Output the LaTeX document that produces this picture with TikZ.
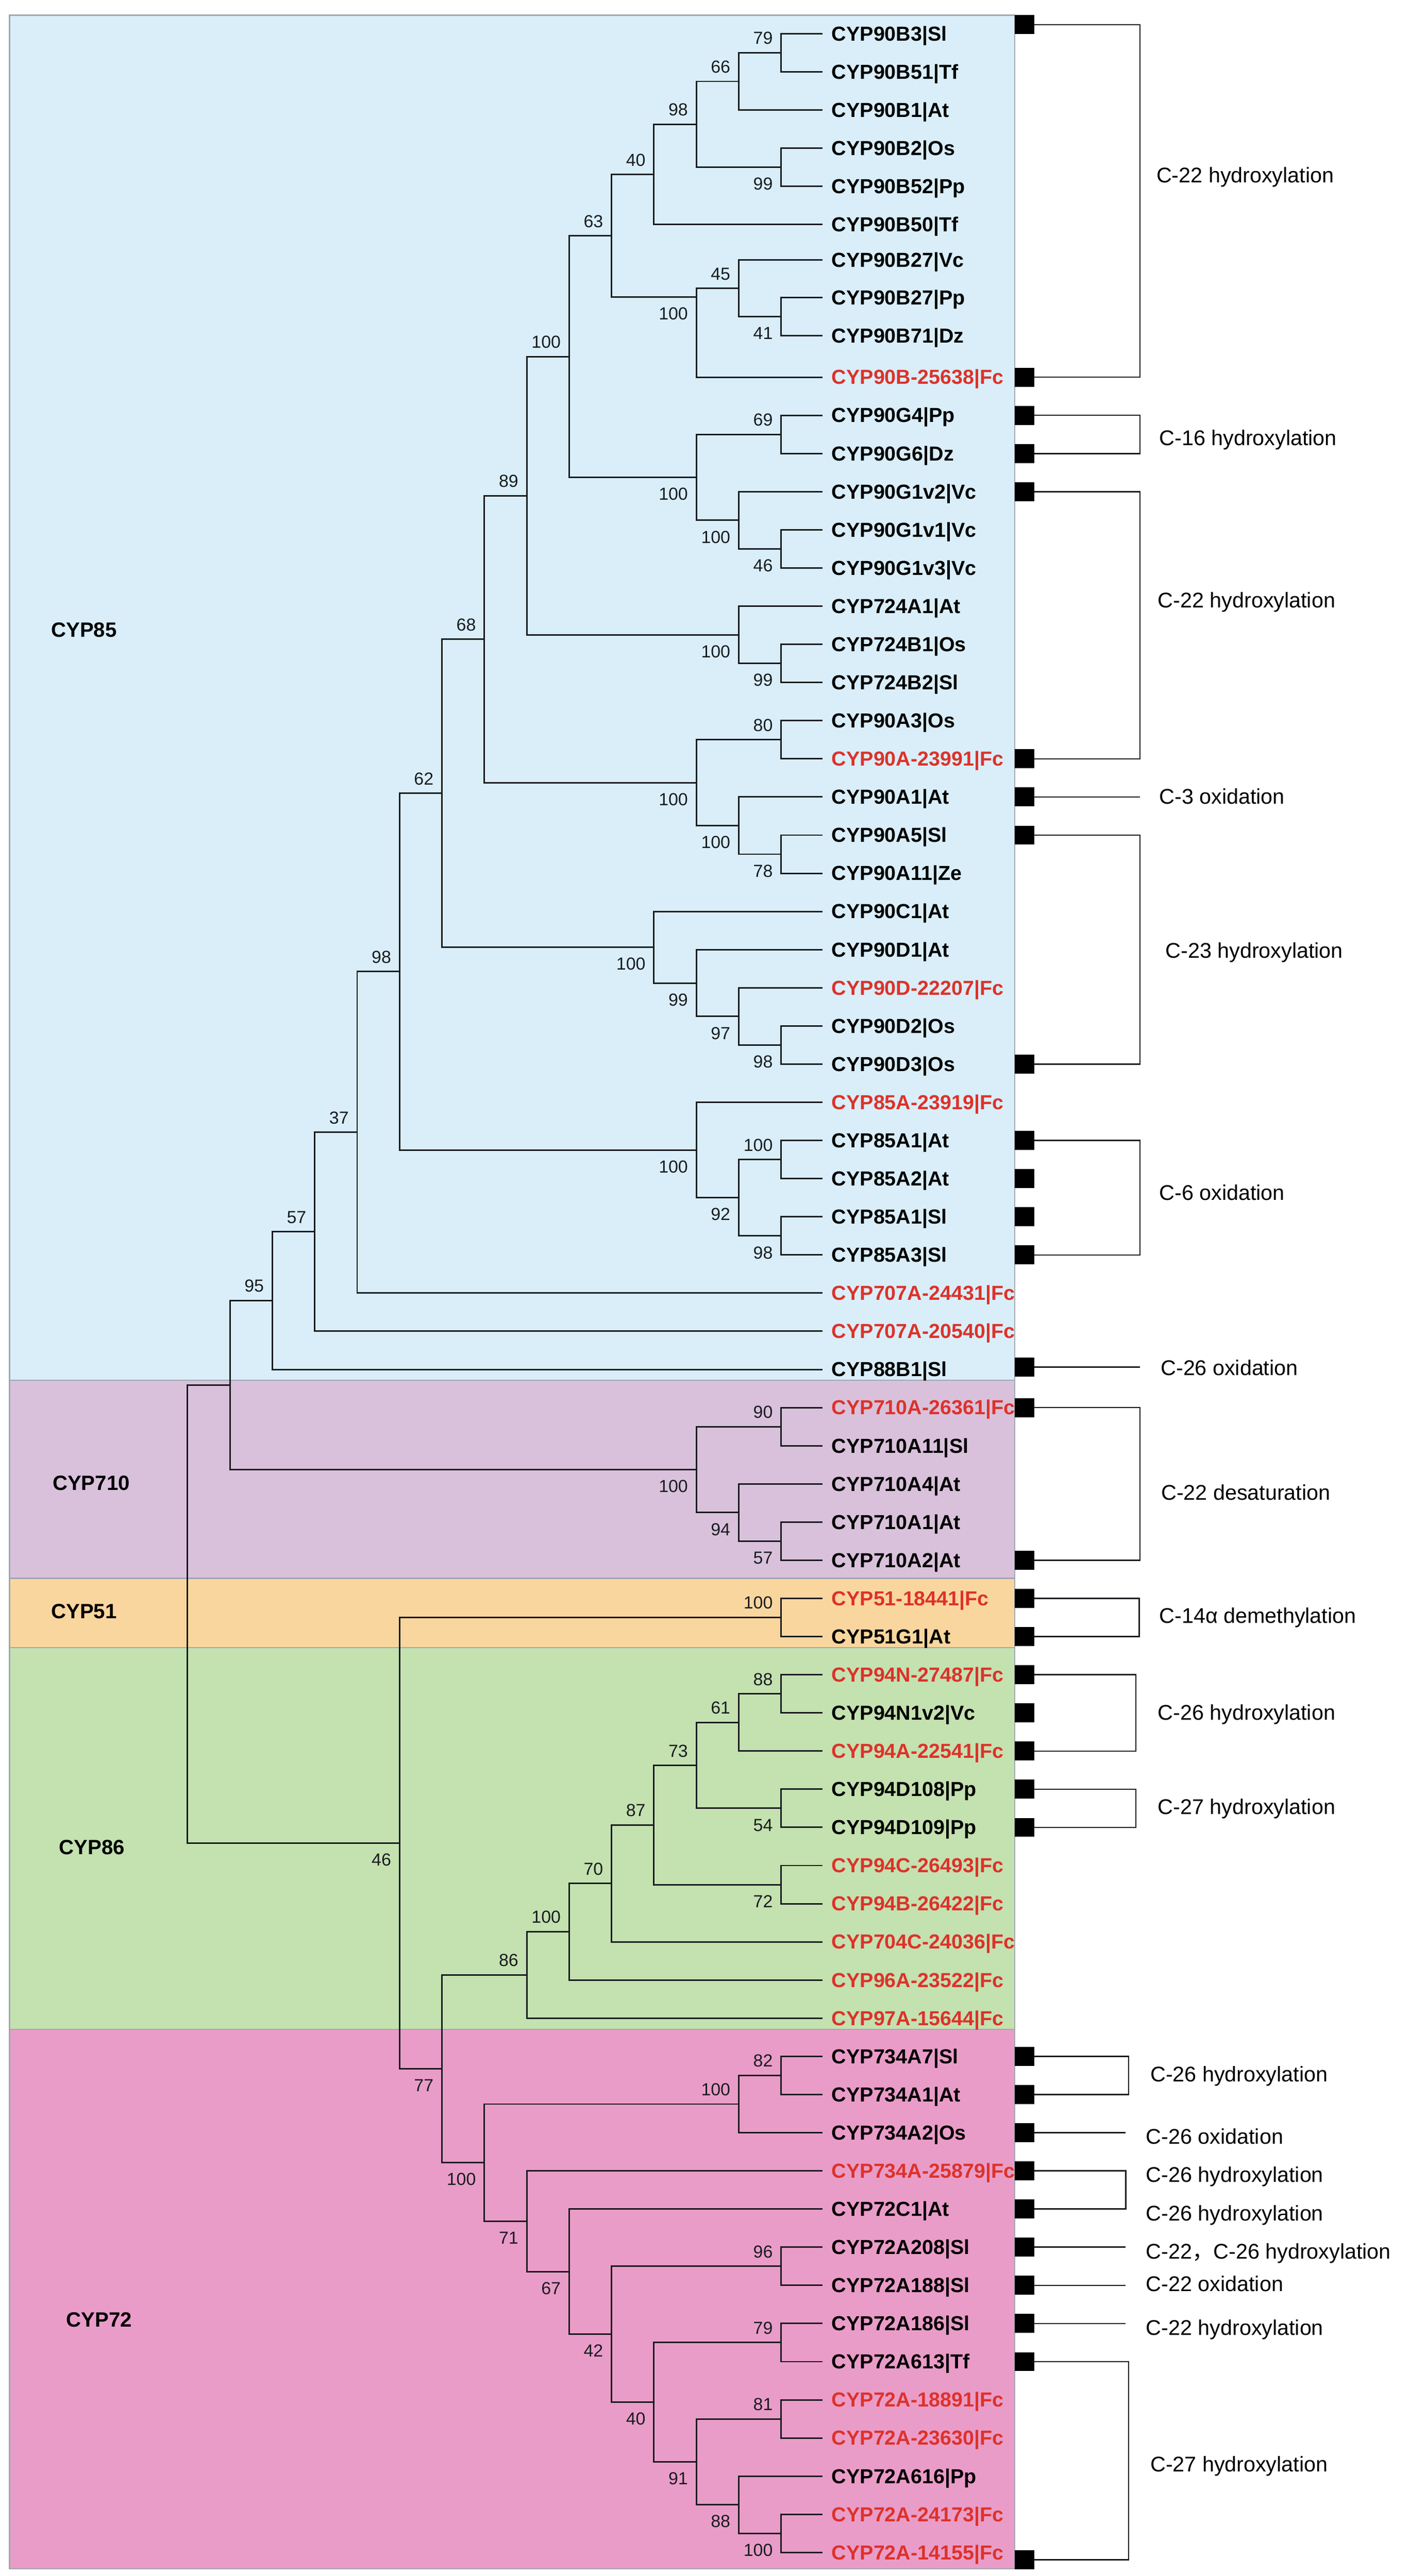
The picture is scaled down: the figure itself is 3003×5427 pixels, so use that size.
\documentclass[tikz,border=0pt]{standalone}
\usepackage{fontspec}
\setmainfont{Liberation Sans}
\newfontfamily\cjkfont{Noto Sans CJK SC}
\definecolor{cA}{RGB}{217,238,249}
\definecolor{cB}{RGB}{217,193,219}
\definecolor{cC}{RGB}{250,214,159}
\definecolor{cD}{RGB}{196,225,176}
\definecolor{cE}{RGB}{234,156,200}
\definecolor{bandline}{RGB}{160,168,176}
\definecolor{fcred}{RGB}{221,50,42}
\definecolor{ink}{RGB}{25,28,32}
\begin{document}
\begin{tikzpicture}[x=0.25pt,y=-0.25pt,
  tree/.style={line width=0.8pt,line cap=rect,line join=miter,draw=ink},
  brk/.style={line width=0.7pt,draw=ink},
  leaf/.style={inner sep=0pt,font=\fontsize{10.7pt}{12pt}\selectfont\bfseries},
  bs/.style={inner sep=0pt,anchor=base east,font=\fontsize{9.2pt}{11pt}\selectfont,text=ink},
  fn/.style={inner sep=0pt,anchor=base west,font=\fontsize{11.2pt}{13pt}\selectfont,text=black},
  grp/.style={inner sep=0pt,anchor=base west,font=\fontsize{10.9pt}{13pt}\selectfont\bfseries,text=black},
  sq/.style={fill=black,draw=none,minimum width=10.25pt,minimum height=10pt,inner sep=0pt},
  band/.style={draw=bandline,line width=0.6pt}
]
\useasboundingbox (0,0) rectangle (3003,5427);
% ---------- background bands ----------
\path[band,fill=cA] (20,32) rectangle (2137,2908);
\path[band,fill=cB] (20,2908) rectangle (2137,3325);
\path[band,fill=cC] (20,3325) rectangle (2137,3471);
\path[band,fill=cD] (20,3471) rectangle (2137,4275);
\path[band,fill=cE] (20,4275) rectangle (2137,5412);
% ---------- group labels ----------
\node[grp] (g85) at (107,1342) {CYP85};
\node[grp] (g710) at (110,3139) {CYP710};
\node[grp] (g51) at (107,3410) {CYP51};
\node[grp] (g86) at (124,3907) {CYP86};
\node[grp] (g72) at (139,4902) {CYP72};
% ---------- leaves ----------
\foreach \i/\yy/\t/\c in {
1/71/CYP90B3|Sl/black,
2/151.4/CYP90B51|Tf/black,
3/231.8/CYP90B1|At/black,
4/312.2/CYP90B2|Os/black,
5/392.6/CYP90B52|Pp/black,
6/473/CYP90B50|Tf/black,
7/548/CYP90B27|Vc/black,
8/627/CYP90B27|Pp/black,
9/707/CYP90B71|Dz/black,
10/794.6/CYP90B-25638|Fc/fcred,
11/875/CYP90G4|Pp/black,
12/955.4/CYP90G6|Dz/black,
13/1035.8/CYP90G1v2|Vc/black,
14/1116.2/CYP90G1v1|Vc/black,
15/1196.6/CYP90G1v3|Vc/black,
16/1277/CYP724A1|At/black,
17/1357.4/CYP724B1|Os/black,
18/1437.8/CYP724B2|Sl/black,
19/1518.2/CYP90A3|Os/black,
20/1598.6/CYP90A-23991|Fc/fcred,
21/1679/CYP90A1|At/black,
22/1759.4/CYP90A5|Sl/black,
23/1839.8/CYP90A11|Ze/black,
24/1920.2/CYP90C1|At/black,
25/2000.6/CYP90D1|At/black,
26/2081/CYP90D-22207|Fc/fcred,
27/2161.4/CYP90D2|Os/black,
28/2241.8/CYP90D3|Os/black,
29/2322.2/CYP85A-23919|Fc/fcred,
30/2402.6/CYP85A1|At/black,
31/2483/CYP85A2|At/black,
32/2563.4/CYP85A1|Sl/black,
33/2643.8/CYP85A3|Sl/black,
34/2724.2/CYP707A-24431|Fc/fcred,
35/2804.6/CYP707A-20540|Fc/fcred,
36/2885/CYP88B1|Sl/black,
37/2965.4/CYP710A-26361|Fc/fcred,
38/3045.8/CYP710A11|Sl/black,
39/3126.2/CYP710A4|At/black,
40/3206.6/CYP710A1|At/black,
41/3287/CYP710A2|At/black,
42/3367.4/CYP51-18441|Fc/fcred,
43/3447.8/CYP51G1|At/black,
44/3528.2/CYP94N-27487|Fc/fcred,
45/3608.6/CYP94N1v2|Vc/black,
46/3689/CYP94A-22541|Fc/fcred,
47/3769.4/CYP94D108|Pp/black,
48/3849.8/CYP94D109|Pp/black,
49/3930.2/CYP94C-26493|Fc/fcred,
50/4010.6/CYP94B-26422|Fc/fcred,
51/4091/CYP704C-24036|Fc/fcred,
52/4171.4/CYP96A-23522|Fc/fcred,
53/4251.8/CYP97A-15644|Fc/fcred,
54/4332.2/CYP734A7|Sl/black,
55/4412.6/CYP734A1|At/black,
56/4493/CYP734A2|Os/black,
57/4573.4/CYP734A-25879|Fc/fcred,
58/4653.8/CYP72C1|At/black,
59/4734.2/CYP72A208|Sl/black,
60/4814.6/CYP72A188|Sl/black,
61/4895/CYP72A186|Sl/black,
62/4975.4/CYP72A613|Tf/black,
63/5055.8/CYP72A-18891|Fc/fcred,
64/5136.2/CYP72A-23630|Fc/fcred,
65/5216.6/CYP72A616|Pp/black,
66/5297/CYP72A-24173|Fc/fcred,
67/5377.4/CYP72A-14155|Fc/fcred}
{
  \coordinate (e\i) at (1731,\yy);
  \node[leaf,text=\c,anchor=base west] (L\i) at (1751,\yy+15) {\t};
}
% ---------- internal nodes ----------
\foreach \n/\x/\y in {
1/1645.2/111.2, 2/1555.9/171.5, 3/1645.2/352.4, 4/1466.6/262, 5/1377.3/367.5,
6/1645.2/667, 7/1555.9/607.5, 8/1466.6/626, 9/1288/496.8, 10/1198.7/751.2,
11/1645.2/915.2, 12/1466.6/1005.7, 13/1555.9/1096.1, 14/1645.2/1156.4,
15/1109.4/1044.3, 16/1555.9/1337.3, 17/1645.2/1397.6, 18/1466.6/1648.9,
19/1020.1/1346.6, 20/1645.2/1558.4, 21/1555.9/1739.3, 22/1645.2/1799.6,
23/1377.3/1995.6, 24/1466.6/2071, 25/1555.9/2141.3, 26/1645.2/2201.6,
27/930.8/1671.1, 28/1466.6/2422.7, 29/1555.9/2523.2, 30/1645.2/2442.8,
31/1645.2/2603.6, 32/841.5/2046.9, 33/752.2/2385.6, 34/662.9/2595.1,
35/573.6/2740, 36/484.3/2918, 37/1466.6/3096, 38/1645.2/3005.6,
39/1555.9/3186.5, 40/1645.2/3246.8, 41/395/3400.5, 42/841.5/3883,
43/1645.2/3407.6, 44/930.8/4358.4, 45/1109.4/4160.7, 46/1020.1/4556.1,
47/1198.7/4069.6, 48/1288/3967.9, 49/1377.3/3844.8, 50/1466.6/3719.2,
51/1555.9/3628.7, 52/1645.2/3809.6, 53/1645.2/3970.4, 54/1645.2/3568.4,
55/1555.9/4432.7, 56/1109.4/4679.6, 57/1645.2/4372.4, 58/1198.7/4785.7,
59/1288/4917.6, 60/1645.2/4774.4, 61/1377.3/5060.8, 62/1645.2/4935.2,
63/1466.6/5186.5, 64/1645.2/5096, 65/1555.9/5276.9, 66/1645.2/5337.2}
{ \coordinate (n\n) at (\x,\y); }
% ---------- branches ----------
\foreach \p/\a/\b in {
n1/e1/e2, n2/n1/e3, n3/e4/e5, n4/n2/n3, n5/n4/e6, n6/e8/e9, n7/e7/n6,
n8/n7/e10, n9/n5/n8, n11/e11/e12, n14/e14/e15, n13/e13/n14, n12/n11/n13,
n10/n9/n12, n17/e17/e18, n16/e16/n17, n15/n10/n16, n20/e19/e20,
n22/e22/e23, n21/e21/n22, n18/n20/n21, n19/n15/n18, n26/e27/e28,
n25/e26/n26, n24/e25/n25, n23/e24/n24, n27/n19/n23, n30/e30/e31,
n31/e32/e33, n29/n30/n31, n28/e29/n29, n32/n27/n28, n33/n32/e34,
n34/n33/e35, n35/n34/e36, n38/e37/e38, n40/e40/e41, n39/e39/n40,
n37/n38/n39, n36/n35/n37, n43/e42/e43, n54/e44/e45, n51/n54/e46,
n52/e47/e48, n50/n51/n52, n53/e49/e50, n49/n50/n53, n48/n49/e51,
n47/n48/e52, n45/n47/e53, n57/e54/e55, n55/n57/e56, n60/e59/e60,
n62/e61/e62, n64/e63/e64, n66/e66/e67, n65/e65/n66, n63/n64/n65,
n61/n62/n63, n59/n60/n61, n58/e58/n59, n56/e57/n58, n46/n55/n56,
n44/n45/n46, n42/n43/n44, n41/n36/n42}
{ \draw[tree] (\a) -- (\a -| \p) -- (\b -| \p) -- (\b); }
% ---------- bootstrap values ----------
\foreach \n/\t/\d in {
1/79/-18, 2/66/-18, 3/99/48, 4/98/-18, 5/40/-18, 6/41/48, 7/45/-18,
8/100/48, 9/63/-18, 10/100/-18, 11/69/-18, 12/100/48, 13/100/48, 14/46/48,
15/89/-18, 16/100/48, 17/99/48, 18/100/48, 19/68/-18, 20/80/-18, 21/100/48,
22/78/48, 23/100/48, 24/99/48, 25/97/48, 26/98/48, 27/62/-18, 28/100/48,
29/92/48, 30/100/-18, 31/98/48, 32/98/-18, 33/37/-18, 34/57/-18, 35/95/-18,
37/100/48, 38/90/-18, 39/94/48, 40/57/48, 42/46/48, 43/100/-18, 44/77/48,
45/86/-18, 47/100/-18, 48/70/-18, 49/87/-18, 50/73/-18, 51/61/-18,
54/88/-18, 52/54/48, 53/72/48, 46/100/48, 55/100/-18, 57/82/-18, 56/71/48,
58/67/48, 59/42/48, 60/96/-18, 61/40/48, 62/79/-18, 63/91/48, 64/81/-18,
65/88/48, 66/100/48}
{ \path (n\n) ++(-17,\d) node[bs] (b\n) {\t}; }
% ---------- markers ----------
\foreach \i/\yy in {1/52, 10/794.6, 11/875, 12/955.4, 13/1035.8, 20/1598.6,
21/1679, 22/1759.4, 28/2241.8, 30/2402.6, 31/2483, 32/2563.4, 33/2643.8,
36/2880, 37/2965.4, 41/3287, 42/3367.4, 43/3447.8, 44/3528.2, 45/3608.6,
46/3689, 47/3769.4, 48/3849.8, 54/4332.2, 55/4412.6, 56/4493, 57/4573.4,
58/4653.8, 59/4734.2, 60/4814.6, 61/4895, 62/4975.4, 67/5393}
{ \node[sq] (s\i) at (2157.5,\yy) {}; }
% ---------- brackets ----------
\coordinate (kA) at (2401,0);
\coordinate (kB) at (2399,0);
\coordinate (kC) at (2392,0);
\coordinate (kD) at (2377,0);
\coordinate (kE) at (2371,0);
\foreach \a/\b/\k in {1/10/kA, 11/12/kA, 13/20/kA, 22/28/kA, 30/33/kA,
37/41/kA, 42/43/kB, 44/46/kC, 47/48/kC, 54/55/kD, 57/58/kE, 62/67/kD}
{ \draw[brk] (s\a.east) -- (s\a.east -| \k) -- (s\b.east -| \k) -- (s\b.east); }
\foreach \a/\k in {21/kA, 36/kA, 56/kE, 59/kE, 60/kE, 61/kE}
{ \draw[brk] (s\a.east) -- (s\a.east -| \k); }
% ---------- function labels ----------
\node[fn] (f1) at (2435,385) {C-22 hydroxylation};
\node[fn] (f2) at (2441,938) {C-16 hydroxylation};
\node[fn] (f3) at (2438,1280) {C-22 hydroxylation};
\node[fn] (f4) at (2441,1694) {C-3 oxidation};
\node[fn] (f5) at (2454,2018) {C-23 hydroxylation};
\node[fn] (f6) at (2441,2528) {C-6 oxidation};
\node[fn] (f7) at (2444,2897) {C-26 oxidation};
\node[fn] (f8) at (2445,3160) {C-22 desaturation};
\node[fn] (f9) at (2441,3420) {C-14α demethylation};
\node[fn] (f10) at (2438,3624) {C-26 hydroxylation};
\node[fn] (f11) at (2438,3822) {C-27 hydroxylation};
\node[fn] (f12) at (2422,4385) {C-26 hydroxylation};
\node[fn] (f13) at (2413,4517) {C-26 oxidation};
\node[fn] (f14) at (2413,4597) {C-26 hydroxylation};
\node[fn] (f15) at (2413,4679) {C-26 hydroxylation};
\node[fn] (f16) at (2413,4759) {C-22{\cjkfont ，}C-26 hydroxylation};
\node[fn] (f17) at (2413,4827) {C-22 oxidation};
\node[fn] (f18) at (2413,4920) {C-22 hydroxylation};
\node[fn] (f19) at (2422,5207) {C-27 hydroxylation};
\end{tikzpicture}
\end{document}
